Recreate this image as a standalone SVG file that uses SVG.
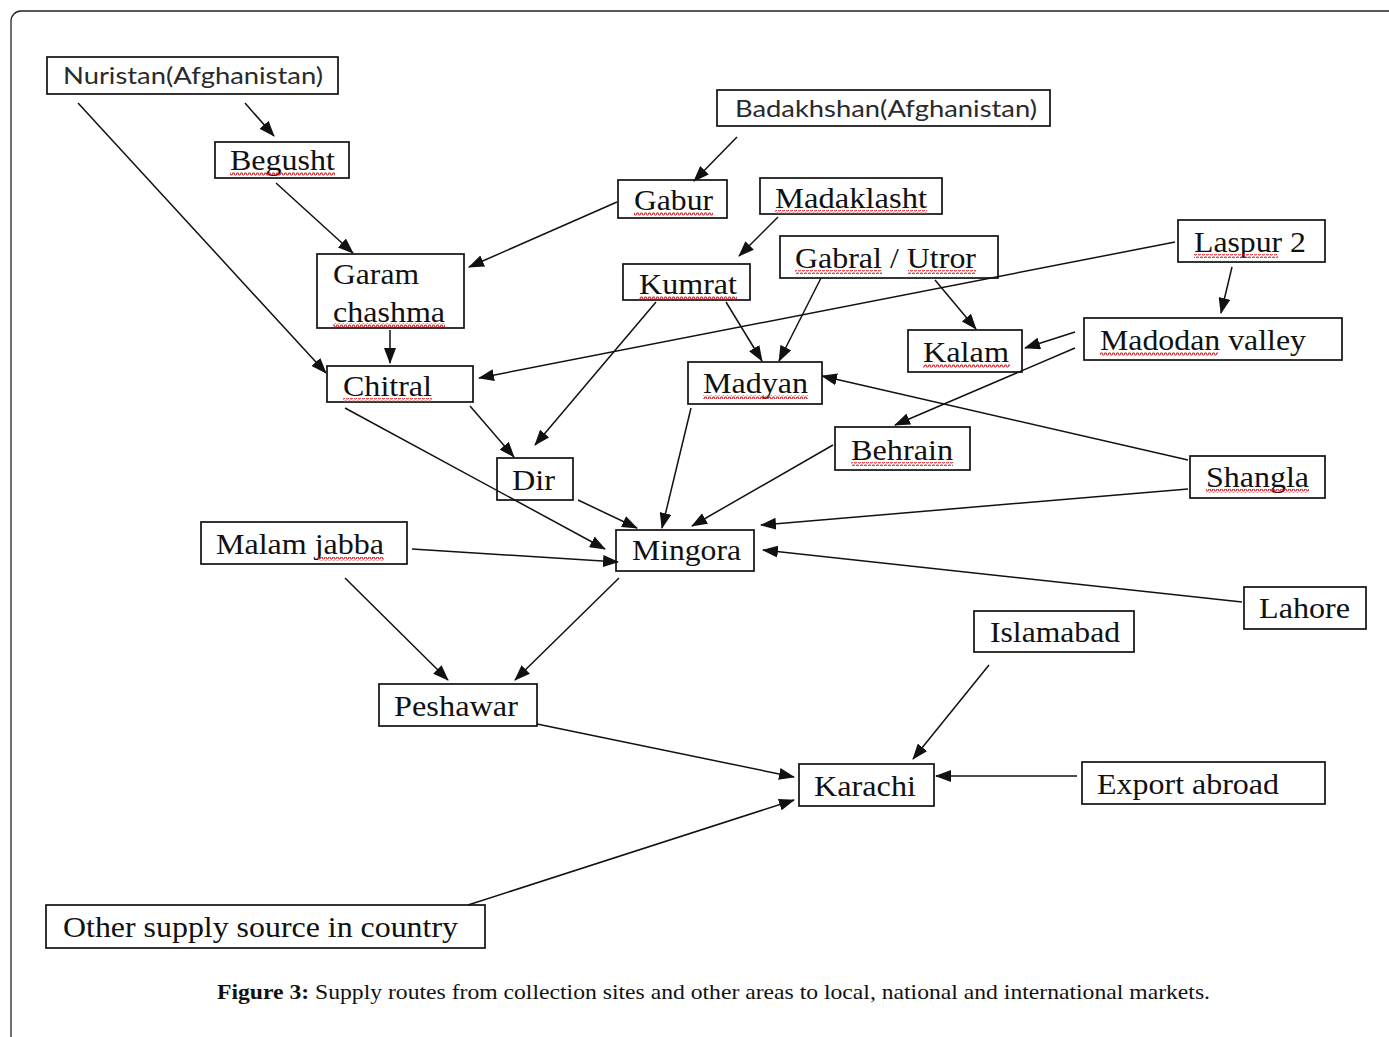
<svg xmlns="http://www.w3.org/2000/svg" width="1389" height="1037" viewBox="0 0 1389 1037">
<style>
.frame{fill:#fff;stroke:#222;stroke-width:1.3}
.box{fill:none;stroke:#111;stroke-width:1.7}
.t{font-family:"Liberation Serif","Times New Roman",serif;font-size:30px;fill:#111}
.s{font-family:Lato,"Liberation Sans",Arial,sans-serif;font-size:23px;fill:#2a2a2a}
.c{stroke:#111;stroke-width:1.5;fill:none;marker-end:url(#ah)}
.sq{fill:url(#wave)}
.cap{font-family:"Liberation Serif","Times New Roman",serif;font-size:22px;fill:#111}
</style>
<defs>
<marker id="ah" markerUnits="userSpaceOnUse" markerWidth="16" markerHeight="12" refX="15" refY="6" orient="auto">
<path d="M0,0 L16,6 L0,12 z" fill="#111"/>
</marker>
<pattern id="wave" width="4" height="4" patternUnits="userSpaceOnUse">
<path d="M0,3 L1,1 L2,1 L3,3 L4,3" stroke="#d0262b" stroke-width="1.1" fill="none"/>
</pattern>
</defs>
<rect class="frame" x="11" y="11" width="1400" height="1050" rx="10"/>

<g id="connectors">
<line class="c" x1="245" y1="103" x2="274" y2="136"/>
<line class="c" x1="78" y1="103" x2="326" y2="373"/>
<line class="c" x1="276" y1="183" x2="353" y2="253"/>
<line class="c" x1="737" y1="137" x2="694" y2="181"/>
<line class="c" x1="617" y1="202" x2="469" y2="267"/>
<line class="c" x1="390" y1="330" x2="390" y2="363"/>
<line class="c" x1="778" y1="217" x2="739" y2="256"/>
<line class="c" x1="656" y1="302" x2="535" y2="445"/>
<line class="c" x1="726" y1="302" x2="762" y2="361"/>
<line class="c" x1="821" y1="278" x2="779" y2="361"/>
<line class="c" x1="935" y1="280" x2="976" y2="329"/>
<line class="c" x1="1175" y1="242" x2="479" y2="378"/>
<line class="c" x1="1232" y1="267" x2="1221" y2="313"/>
<line class="c" x1="1075" y1="332" x2="1025" y2="348"/>
<line class="c" x1="1075" y1="348" x2="895" y2="425"/>
<line class="c" x1="1188" y1="460" x2="822" y2="376"/>
<line class="c" x1="1188" y1="489" x2="761" y2="525"/>
<line class="c" x1="345" y1="408" x2="605" y2="549"/>
<line class="c" x1="470" y1="406" x2="514" y2="457"/>
<line class="c" x1="578" y1="500" x2="637" y2="528"/>
<line class="c" x1="691" y1="408" x2="662" y2="528"/>
<line class="c" x1="833" y1="445" x2="692" y2="526"/>
<line class="c" x1="412" y1="549" x2="618" y2="562"/>
<line class="c" x1="1242" y1="602" x2="763" y2="550"/>
<line class="c" x1="345" y1="578" x2="448" y2="680"/>
<line class="c" x1="619" y1="578" x2="515" y2="680"/>
<line class="c" x1="537" y1="724" x2="794" y2="777"/>
<line class="c" x1="989" y1="665" x2="913" y2="759"/>
<line class="c" x1="1077" y1="776" x2="936" y2="776"/>
<line class="c" x1="468" y1="905" x2="794" y2="800"/>
</g>

<g id="nuristan"><rect class="box" x="47" y="57" width="291" height="37"/><text class="s" x="63" y="84" textLength="260" lengthAdjust="spacingAndGlyphs">Nuristan(Afghanistan)</text></g>
<g id="badakhshan"><rect class="box" x="717" y="90" width="333" height="36"/><text class="s" x="735" y="117" textLength="302" lengthAdjust="spacingAndGlyphs">Badakhshan(Afghanistan)</text></g>
<g id="begusht"><rect class="box" x="215" y="142" width="134" height="36"/><text class="t" x="230" y="170" textLength="105" lengthAdjust="spacingAndGlyphs">Begusht</text><rect class="sq" x="230" y="172" width="105" height="4"/></g>
<g id="gabur"><rect class="box" x="618" y="180" width="109" height="38"/><text class="t" x="634" y="210" textLength="79" lengthAdjust="spacingAndGlyphs">Gabur</text><rect class="sq" x="634" y="212" width="79" height="4"/></g>
<g id="madaklasht"><rect class="box" x="760" y="178" width="182" height="36"/><text class="t" x="775" y="208" textLength="152" lengthAdjust="spacingAndGlyphs">Madaklasht</text><rect class="sq" x="775" y="210" width="152" height="4"/></g>
<g id="garam"><rect class="box" x="317" y="254" width="147" height="74"/><text class="t" x="333" y="284" textLength="86" lengthAdjust="spacingAndGlyphs">Garam</text><text class="t" x="333" y="322" textLength="112" lengthAdjust="spacingAndGlyphs">chashma</text><rect class="sq" x="333" y="323" width="112" height="4"/></g>
<g id="kumrat"><rect class="box" x="623" y="264" width="127" height="36"/><text class="t" x="639" y="294" textLength="98" lengthAdjust="spacingAndGlyphs">Kumrat</text><rect class="sq" x="639" y="296" width="98" height="4"/></g>
<g id="gabral"><rect class="box" x="780" y="236" width="218" height="42"/><text class="t" x="795" y="268" textLength="181" lengthAdjust="spacingAndGlyphs">Gabral / Utror</text><rect class="sq" x="795" y="270" width="87" height="4"/><rect class="sq" x="908" y="270" width="68" height="4"/></g>
<g id="laspur"><rect class="box" x="1178" y="220" width="147" height="42"/><text class="t" x="1194" y="252" textLength="112" lengthAdjust="spacingAndGlyphs">Laspur 2</text><rect class="sq" x="1194" y="254" width="84" height="4"/></g>
<g id="kalam"><rect class="box" x="908" y="330" width="114" height="42"/><text class="t" x="923" y="362" textLength="86" lengthAdjust="spacingAndGlyphs">Kalam</text><rect class="sq" x="923" y="364" width="87" height="4"/></g>
<g id="madodan"><rect class="box" x="1084" y="318" width="258" height="42"/><text class="t" x="1100" y="350" textLength="206" lengthAdjust="spacingAndGlyphs">Madodan valley</text><rect class="sq" x="1100" y="352" width="118" height="4"/></g>
<g id="chitral"><rect class="box" x="327" y="366" width="146" height="36"/><text class="t" x="343" y="396" textLength="89" lengthAdjust="spacingAndGlyphs">Chitral</text><rect class="sq" x="343" y="398" width="89" height="4"/></g>
<g id="madyan"><rect class="box" x="688" y="362" width="134" height="42"/><text class="t" x="703" y="393" textLength="105" lengthAdjust="spacingAndGlyphs">Madyan</text><rect class="sq" x="703" y="395" width="105" height="4"/></g>
<g id="behrain"><rect class="box" x="835" y="427" width="135" height="43"/><text class="t" x="851" y="460" textLength="102" lengthAdjust="spacingAndGlyphs">Behrain</text><rect class="sq" x="851" y="462" width="102" height="4"/></g>
<g id="shangla"><rect class="box" x="1190" y="456" width="135" height="42"/><text class="t" x="1206" y="487" textLength="103" lengthAdjust="spacingAndGlyphs">Shangla</text><rect class="sq" x="1206" y="489" width="103" height="4"/></g>
<g id="dir"><rect class="box" x="497" y="458" width="76" height="42"/><text class="t" x="512" y="490" textLength="43" lengthAdjust="spacingAndGlyphs">Dir</text></g>
<g id="malamjabba"><rect class="box" x="201" y="522" width="206" height="42"/><text class="t" x="216" y="554" textLength="168" lengthAdjust="spacingAndGlyphs">Malam jabba</text><rect class="sq" x="318" y="557" width="66" height="4"/></g>
<g id="mingora"><rect class="box" x="616" y="530" width="138" height="41"/><text class="t" x="632" y="560" textLength="109" lengthAdjust="spacingAndGlyphs">Mingora</text></g>
<g id="lahore"><rect class="box" x="1244" y="587" width="122" height="42"/><text class="t" x="1259" y="618" textLength="91" lengthAdjust="spacingAndGlyphs">Lahore</text></g>
<g id="islamabad"><rect class="box" x="974" y="611" width="160" height="41"/><text class="t" x="990" y="642" textLength="130" lengthAdjust="spacingAndGlyphs">Islamabad</text></g>
<g id="peshawar"><rect class="box" x="379" y="684" width="158" height="42"/><text class="t" x="394" y="716" textLength="124" lengthAdjust="spacingAndGlyphs">Peshawar</text></g>
<g id="karachi"><rect class="box" x="799" y="764" width="135" height="42"/><text class="t" x="814" y="796" textLength="102" lengthAdjust="spacingAndGlyphs">Karachi</text></g>
<g id="export"><rect class="box" x="1082" y="762" width="243" height="42"/><text class="t" x="1097" y="794" textLength="182" lengthAdjust="spacingAndGlyphs">Export abroad</text></g>
<g id="other"><rect class="box" x="46" y="905" width="439" height="43"/><text class="t" x="63" y="937" textLength="395" lengthAdjust="spacingAndGlyphs">Other supply source in country</text></g>

<text class="cap" x="217" y="999" textLength="993" lengthAdjust="spacingAndGlyphs"><tspan font-weight="bold">Figure 3:</tspan> Supply routes from collection sites and other areas to local, national and international markets.</text>
</svg>
